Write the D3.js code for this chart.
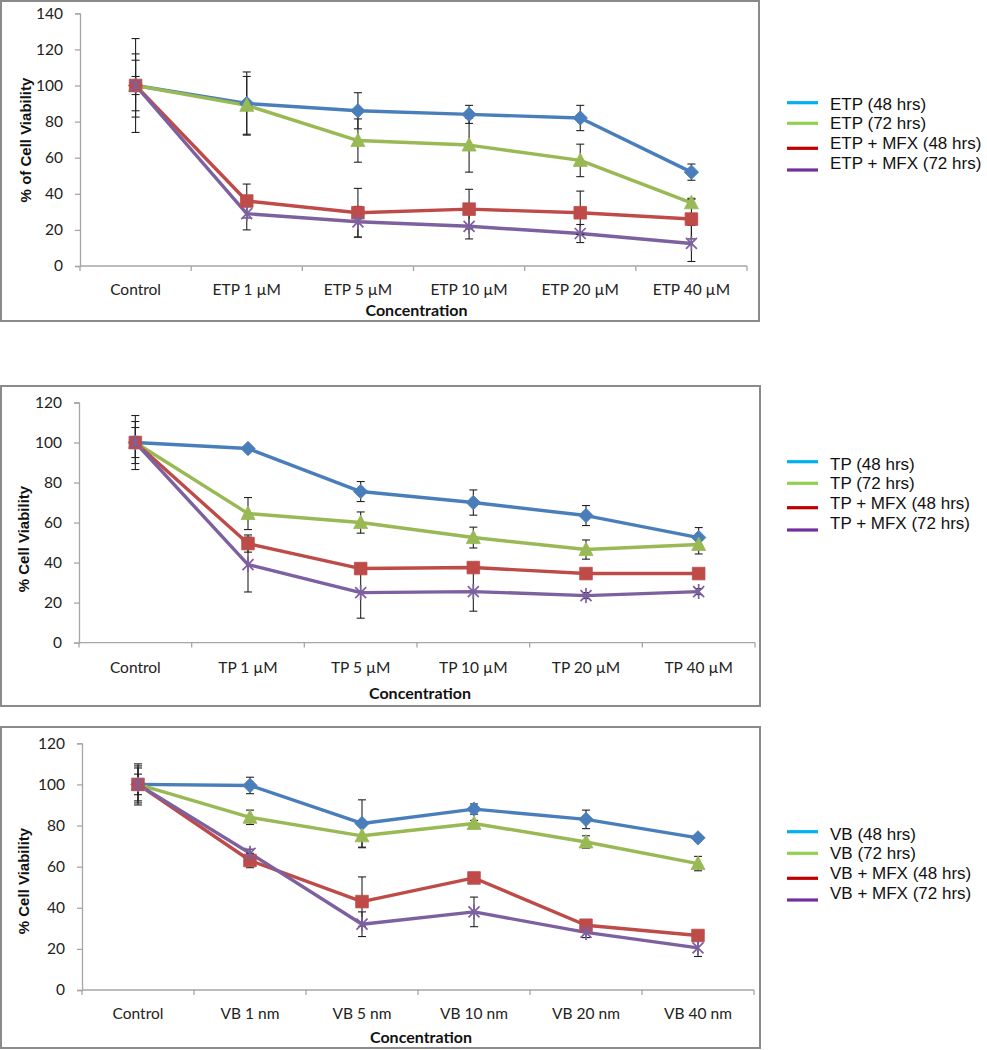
<!DOCTYPE html>
<html>
<head>
<meta charset="utf-8">
<script src="https://cdn.jsdelivr.net/npm/d3@7"></script>
<style>
  html, body { margin: 0; padding: 0; background: #fff; }
  svg { display: block; }
</style>
</head>
<body>
<svg id="chart" width="987" height="1050"></svg>
<script>
// ---------- DATA ----------
const seriesColors = ["#4A7EBB", "#98B954", "#BE4B48", "#7D60A0"];
const legendColors = ["#00B0F0", "#92D050", "#C00000", "#7030A0"];
const markerTypes = ["diamond", "triangle", "square", "star"];

// Panel 1: ETP
const catsETP = ["Control", "ETP 1 µM", "ETP 5 µM", "ETP 10 µM", "ETP 20 µM", "ETP 40 µM"];
const legendETP = ["ETP (48 hrs)", "ETP (72 hrs)", "ETP + MFX (48 hrs)", "ETP + MFX (72 hrs)"];
const etp48 = [100, 90, 86, 84, 82, 52];
const etp48Err = [26, 17.5, 10, 5, 7, 4.5];
const etp72 = [100, 89, 69.5, 67, 58.5, 35];
const etp72Err = [14, 16, 12, 15, 9, 2.5];
const etpMfx48 = [100, 36, 29.5, 31.5, 29.5, 26];
const etpMfx48Err = [17.5, 9.4, 13.5, 11, 12, 11];
const etpMfx72 = [100, 29, 24.5, 22, 18, 12.5];
const etpMfx72Err = [5, 9, 8.5, 7, 5, 10];
const ticksETP = [0, 20, 40, 60, 80, 100, 120, 140];

// Panel 2: TP
const catsTP = ["Control", "TP 1 µM", "TP 5 µM", "TP 10 µM", "TP 20 µM", "TP 40 µM"];
const legendTP = ["TP (48 hrs)", "TP (72 hrs)", "TP + MFX (48 hrs)", "TP + MFX (72 hrs)"];
const tp48 = [100, 97, 75.5, 70, 63.5, 52.5];
const tp48Err = [13.5, 1.5, 5, 6.3, 5, 5];
const tp72 = [100, 64.5, 60, 52.5, 46.5, 49];
const tp72Err = [10.5, 8, 5.3, 5.2, 4.8, 4.7];
const tpMfx48 = [100, 49.5, 37, 37.5, 34.5, 34.5];
const tpMfx48Err = [7.5, 4.3, 1.5, 1.5, 1.5, 1.5];
const tpMfx72 = [100, 39, 25, 25.5, 23.5, 25.5];
const tpMfx72Err = [3, 13.7, 12.8, 9.8, 1.5, 1.5];
const ticksTP = [0, 20, 40, 60, 80, 100, 120];

// Panel 3: VB
const catsVB = ["Control", "VB 1 nm", "VB 5 nm", "VB 10 nm", "VB 20 nm", "VB 40 nm"];
const legendVB = ["VB (48 hrs)", "VB (72 hrs)", "VB + MFX (48 hrs)", "VB + MFX (72 hrs)"];
const vb48 = [100, 99.5, 81, 88, 83, 74];
const vb48Err = [10, 4, 11.5, 2.5, 4.5, 1.5];
const vb72 = [100, 84, 75, 81, 72, 61.5];
const vb72Err = [9, 3.5, 5.8, 1.5, 3, 3.5];
const vbMfx48 = [100, 63, 43, 54.5, 31.5, 26.5];
const vbMfx48Err = [8, 3.5, 12, 1.5, 1.5, 1.5];
const vbMfx72 = [100, 66.5, 32, 38, 28, 20.5];
const vbMfx72Err = [5, 2, 6, 7.2, 2.5, 4.2];
const ticksVB = [0, 20, 40, 60, 80, 100, 120];

// ---------- LAYOUT ----------
const panels = [
  {
    cats: catsETP, legend: legendETP, ticks: ticksETP, yMax: 140,
    values: [etp48, etp72, etpMfx48, etpMfx72],
    errs: [etp48Err, etp72Err, etpMfx48Err, etpMfx72Err],
    frame: {x: 1, y: 1, w: 758, h: 320},
    xRange: [80, 747], yRange: [266, 13.3],
    yTitle: "% of Cell Viability", yTitleX: 25, yTitleY: 140,
    xTitleY: 309, xTickY: 289,
    legTextY: [104, 123.3, 143.3, 163.3], legLineY: [102.7, 123.3, 148.3, 170]
  },
  {
    cats: catsTP, legend: legendTP, ticks: ticksTP, yMax: 120,
    values: [tp48, tp72, tpMfx48, tpMfx72],
    errs: [tp48Err, tp72Err, tpMfx48Err, tpMfx72Err],
    frame: {x: 1, y: 386, w: 759, h: 320},
    xRange: [79, 755], yRange: [642.6, 402.5],
    yTitle: "% Cell Viability", yTitleX: 23, yTitleY: 539,
    xTitleY: 692.5, xTickY: 667,
    legTextY: [464, 483.3, 503.3, 523.3], legLineY: [461.7, 483.3, 507.7, 530]
  },
  {
    cats: catsVB, legend: legendVB, ticks: ticksVB, yMax: 120,
    values: [vb48, vb72, vbMfx48, vbMfx72],
    errs: [vb48Err, vb72Err, vbMfx48Err, vbMfx72Err],
    frame: {x: 1, y: 727, w: 759, h: 321},
    xRange: [82, 754], yRange: [990, 743.3],
    yTitle: "% Cell Viability", yTitleX: 23, yTitleY: 881,
    xTitleY: 1036.5, xTickY: 1013,
    legTextY: [834, 853.3, 873.3, 893.3], legLineY: [831.7, 853.3, 878.3, 900]
  }
];

const svg = d3.select("#chart");
const tickFont = "Lato, 'Open Sans', sans-serif";
const axisColor = "#a6a6a6";

function markerPath(type) {
  const s = 7.2;
  if (type === "diamond") return `M0,${-s}L${s},0L0,${s}L${-s},0Z`;
  if (type === "square") return `M${-6.3},${-6.3}h12.6v12.6h-12.6Z`;
  if (type === "triangle") return `M0,${-7.5}L${7},${6}L${-7},${6}Z`;
  return `M${-5.5},${-5.5}L5.5,5.5M5.5,${-5.5}L${-5.5},5.5M0,${-7.5}L0,7.5`;
}

panels.forEach(p => {
  const g = svg.append("g");
  // frame
  g.append("rect")
    .attr("x", p.frame.x).attr("y", p.frame.y)
    .attr("width", p.frame.w).attr("height", p.frame.h)
    .attr("fill", "#fff").attr("stroke", "#8a8a8a").attr("stroke-width", 2);

  const x = d3.scaleBand().domain(p.cats).range(p.xRange).padding(0);
  const y = d3.scaleLinear().domain([0, p.yMax]).range(p.yRange);
  const cx = c => x(c) + x.bandwidth() / 2;

  // y axis
  const yAxis = d3.axisLeft(y).tickValues(p.ticks).tickSize(5).tickPadding(12);
  const ya = g.append("g").attr("transform", `translate(${p.xRange[0]},0)`).call(yAxis);
  ya.select(".domain").attr("stroke", axisColor).attr("stroke-width", 1.3);
  ya.selectAll(".tick line").attr("stroke", axisColor).attr("stroke-width", 1.3);
  ya.selectAll(".tick text").attr("font-family", tickFont).attr("font-size", 15.5).attr("fill", "#222");

  // x axis: ticks at category boundaries
  const xa = g.append("g").attr("transform", `translate(0,${p.yRange[0]})`);
  xa.append("line").attr("x1", p.xRange[0]).attr("x2", p.xRange[1])
    .attr("stroke", axisColor).attr("stroke-width", 1.3);
  const bounds = p.cats.map(c => x(c)).concat([p.xRange[1]]);
  xa.selectAll("line.b").data(bounds).enter().append("line").attr("class", "b")
    .attr("x1", d => d).attr("x2", d => d).attr("y1", 0).attr("y2", 5)
    .attr("stroke", axisColor).attr("stroke-width", 1.3);
  g.selectAll("text.xt").data(p.cats).enter().append("text").attr("class", "xt")
    .attr("x", d => cx(d)).attr("y", p.xTickY)
    .attr("text-anchor", "middle").attr("dominant-baseline", "central")
    .attr("font-family", tickFont).attr("font-size", 15.5).attr("fill", "#222")
    .text(d => d);

  // titles
  g.append("text").attr("x", (p.xRange[0] + p.xRange[1]) / 2 + 3).attr("y", p.xTitleY)
    .attr("text-anchor", "middle").attr("dominant-baseline", "central")
    .attr("font-family", tickFont).attr("font-weight", "bold").attr("font-size", 16)
    .attr("fill", "#111").text("Concentration");
  g.append("text")
    .attr("transform", `translate(${p.yTitleX},${p.yTitleY}) rotate(-90)`)
    .attr("text-anchor", "middle").attr("dominant-baseline", "central")
    .attr("font-family", "'Liberation Sans', Arial, sans-serif").attr("font-weight", "bold")
    .attr("font-size", 15).attr("fill", "#111").text(p.yTitle);

  // lines
  const line = d3.line().x((d, i) => cx(p.cats[i])).y(d => y(d));
  p.values.forEach((vals, si) => {
    g.append("path").datum(vals).attr("d", line)
      .attr("fill", "none").attr("stroke", seriesColors[si]).attr("stroke-width", 3.4)
      .attr("stroke-linejoin", "round");
  });

  // error bars
  p.values.forEach((vals, si) => {
    const eg = g.append("g");
    vals.forEach((v, i) => {
      const e = p.errs[si][i];
      const xx = cx(p.cats[i]);
      const y1 = y(v + e), y2 = y(Math.max(0, v - e));
      eg.append("line").attr("x1", xx).attr("x2", xx).attr("y1", y1).attr("y2", y2)
        .attr("stroke", "#222").attr("stroke-width", 1.1);
      [y1, y2].forEach(yy => eg.append("line")
        .attr("x1", xx - 4).attr("x2", xx + 4).attr("y1", yy).attr("y2", yy)
        .attr("stroke", "#222").attr("stroke-width", 1.1));
    });
  });

  // markers
  p.values.forEach((vals, si) => {
    const t = markerTypes[si];
    g.selectAll(null).data(vals).enter().append("path")
      .attr("transform", (d, i) => `translate(${cx(p.cats[i])},${y(d)})`)
      .attr("d", markerPath(t))
      .attr("fill", t === "star" ? "none" : seriesColors[si])
      .attr("stroke", seriesColors[si])
      .attr("stroke-width", t === "star" ? 1.7 : 0.8);
  });

  // legend
  p.legend.forEach((name, i) => {
    g.append("line").attr("x1", 787).attr("x2", 818)
      .attr("y1", p.legLineY[i]).attr("y2", p.legLineY[i])
      .attr("stroke", legendColors[i]).attr("stroke-width", 3.2);
    g.append("text").attr("x", 830).attr("y", p.legTextY[i])
      .attr("dominant-baseline", "central")
      .attr("font-family", "'Liberation Sans', Arial, sans-serif")
      .attr("font-size", 17).attr("fill", "#111").text(name);
  });
});
</script>
</body>
</html>
